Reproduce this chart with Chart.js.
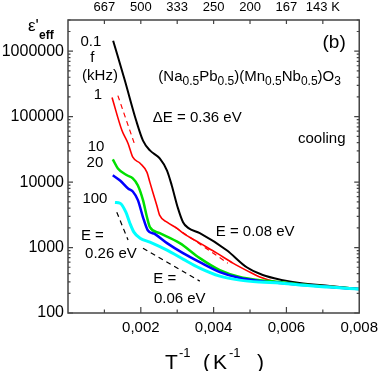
<!DOCTYPE html>
<html lang="en">
<head>
    <meta charset="UTF-8">
    <title>(Na0.5Pb0.5)(Mn0.5Nb0.5)O3 permittivity vs 1/T</title>
    <script src="https://cdn.jsdelivr.net/npm/chart.js"></script>
    <style>
        body { margin: 0; background: #fff; }
        #wrap { width: 384px; height: 371px; }
    </style>
</head>
<body>
    <div id="wrap"><canvas id="chart" width="384" height="371"></canvas></div>

    <script>
        // 1/T (K^-1) and effective permittivity for each frequency (kHz)
        const invT_01k = [0.00124, 0.00156, 0.00187, 0.00206, 0.00225, 0.00252, 0.00272, 0.00285, 0.00302, 0.00316, 0.00330, 0.00362, 0.00436, 0.00491, 0.00535, 0.0059, 0.00636, 0.00719, 0.008];
        const eps_01k = [1.45e6, 3.6e5, 8.8e4, 4.3e4, 3.05e4, 2.3e4, 1.5e4, 8.9e3, 4.0e3, 2.44e3, 2.0e3, 1.66e3, 910, 500, 380, 318, 287, 258, 232];

        const invT_1k = [0.00121, 0.00148, 0.00165, 0.00178, 0.00198, 0.00217, 0.00225, 0.00233, 0.00244, 0.00252, 0.00272, 0.00299, 0.00316, 0.00362, 0.00409, 0.00453, 0.00499, 0.00527, 0.00573, 0.00617, 0.00719, 0.008];
        const eps_1k = [1.96e5, 6.2e4, 3.9e4, 2.4e4, 1.94e4, 1.41e4, 9.9e3, 7.0e3, 4.4e3, 3.1e3, 2.44e3, 1.98e3, 1.66e3, 1.17e3, 822, 578, 422, 354, 297, 280, 255, 232];

        const invT_10k = [0.00123, 0.00137, 0.00162, 0.00178, 0.00192, 0.00206, 0.00217, 0.00225, 0.00252, 0.00307, 0.00362, 0.00417, 0.00472, 0.00527, 0.00582, 0.00636, 0.00719, 0.008];
        const eps_10k = [2.23e4, 1.62e4, 1.27e4, 1.14e4, 8.9e3, 5.3e3, 2.9e3, 2.05e3, 1.66e3, 1.17e3, 690, 452, 354, 318, 297, 275, 252, 232];

        const invT_20k = [0.00123, 0.00143, 0.00165, 0.00178, 0.00192, 0.00206, 0.00219, 0.00239, 0.00272, 0.00316, 0.00362, 0.00417, 0.00472, 0.00527, 0.00582, 0.00636, 0.00719, 0.008];
        const eps_20k = [1.27e4, 1.06e4, 8.0e3, 7.2e3, 5.3e3, 2.9e3, 1.84e3, 1.6e3, 1.17e3, 822, 598, 422, 342, 307, 287, 270, 250, 232];

        const invT_100k = [0.00129, 0.00143, 0.00159, 0.0017, 0.00181, 0.00198, 0.00225, 0.00272, 0.00316, 0.00362, 0.00417, 0.00472, 0.00527, 0.00582, 0.00636, 0.00719, 0.008];
        const eps_100k = [4.9e3, 4.75e3, 3.47e3, 2.35e3, 1.72e3, 1.39e3, 1.21e3, 912, 666, 485, 366, 318, 297, 287, 267, 249, 232];

        // activation-energy guide lines (two end points each)
        const fitX_036 = [0.00137, 0.00184];
        const fitY_036 = [2.1e5, 3.64e4];
        const fitX_008 = [0.00294, 0.00439];
        const fitY_008 = [2.05e3, 578];
        const fitX_026 = [0.00134, 0.00165];
        const fitY_026 = [3.47e3, 1.3e3];
        const fitX_006 = [0.00206, 0.00362];
        const fitY_006 = [979, 307];

        // tick labels
        const bottomTicks = [0.002, 0.004, 0.006, 0.008];
        const topTickValues = [0.001, 0.002, 0.003, 0.004, 0.005, 0.006, 0.007];
        const topTickLabels = ['667', '500', '333', '250', '200', '167', '143 K'];
        const yDecades = [100, 1000, 10000, 100000, 1000000];

        const FONT = "'Liberation Sans', Arial, sans-serif";

        function pts(xs, ys) {
            return xs.map((x, i) => ({ x: x, y: ys[i] }));
        }

        function curve(xs, ys, color, width, order) {
            return {
                data: pts(xs, ys),
                borderColor: color,
                borderWidth: width,
                pointRadius: 0,
                cubicInterpolationMode: 'monotone',
                showLine: true,
                order: order
            };
        }

        function guide(xs, ys, color, order) {
            return {
                data: pts(xs, ys),
                borderColor: color,
                borderWidth: 1.2,
                borderDash: [5, 4],
                pointRadius: 0,
                showLine: true,
                order: order
            };
        }

        // draw text made of pieces (for sub/superscripts), centred on cx
        function richText(ctx, parts, cx, cy) {
            let total = 0;
            parts.forEach(p => {
                ctx.font = p.size + 'px ' + FONT;
                p.w = ctx.measureText(p.t).width;
                total += p.w;
            });
            let x = cx - total / 2;
            parts.forEach(p => {
                ctx.font = p.size + 'px ' + FONT;
                ctx.fillText(p.t, x, cy + (p.dy || 0));
                x += p.w;
            });
        }

        // annotations in data coordinates
        const notes = [
            { t: '0.1', x: 0.00063, y: 1.4e6, size: 15 },
            { t: 'f', x: 0.00067, y: 8.0e5, size: 15 },
            { t: '(kHz)', x: 0.00088, y: 4.25e5, size: 15 },
            { t: '1', x: 0.00082, y: 2.18e5, size: 15 },
            { t: '10', x: 0.00077, y: 3.5e4, size: 15 },
            { t: '20', x: 0.00074, y: 1.94e4, size: 15 },
            { t: '100', x: 0.00074, y: 5.5e3, size: 15 },
            { t: 'E =', x: 0.00067, y: 1.49e3, size: 15 },
            { t: '0.26 eV', x: 0.00118, y: 793, size: 15 },
            { t: 'E =', x: 0.00266, y: 330, size: 15 },
            { t: '0.06 eV', x: 0.00307, y: 163, size: 15 },
            { t: '\u0394E = 0.36 eV', x: 0.00355, y: 9.7e4, size: 15 },
            { t: 'E = 0.08 eV', x: 0.00514, y: 1.72e3, size: 15 },
            { t: 'cooling', x: 0.00697, y: 4.66e4, size: 15 },
            { t: '(b)', x: 0.00731, y: 1.35e6, size: 19 }
        ];

        const decorations = {
            id: 'decorations',
            afterDraw(chart) {
                const { ctx, chartArea: a, scales } = chart;
                const x = scales.x, y = scales.y;
                ctx.save();

                // frame
                ctx.strokeStyle = '#444';
                ctx.lineWidth = 1.5;
                ctx.strokeRect(a.left, a.top, a.right - a.left, a.bottom - a.top);

                // inward ticks, x
                ctx.lineWidth = 1.2;
                ctx.beginPath();
                for (let i = 1; i <= 7; i++) {
                    const px = x.getPixelForValue(i * 0.001);
                    const len = i % 2 === 0 ? 6 : 3.5;
                    ctx.moveTo(px, a.bottom);
                    ctx.lineTo(px, a.bottom - len);
                    ctx.moveTo(px, a.top);
                    ctx.lineTo(px, a.top + 4);
                }
                // inward ticks, y (log minor)
                yDecades.forEach(d => {
                    for (let m = 1; m <= 9; m++) {
                        const v = d * m;
                        if (v > y.max) break;
                        const py = y.getPixelForValue(v);
                        const len = m === 1 ? 5 : 2.5;
                        ctx.moveTo(a.left, py);
                        ctx.lineTo(a.left + len, py);
                        ctx.moveTo(a.right, py);
                        ctx.lineTo(a.right - len, py);
                    }
                });
                ctx.stroke();

                // annotations
                ctx.fillStyle = '#000';
                ctx.textAlign = 'center';
                ctx.textBaseline = 'middle';
                notes.forEach(n => {
                    ctx.font = n.size + 'px ' + FONT;
                    ctx.fillText(n.t, x.getPixelForValue(n.x), y.getPixelForValue(n.y));
                });

                // compound formula
                ctx.textAlign = 'left';
                richText(ctx, [
                    { t: '(Na', size: 15 }, { t: '0.5', size: 12, dy: 5 },
                    { t: 'Pb', size: 15 }, { t: '0.5', size: 12, dy: 5 },
                    { t: ')(Mn', size: 15 }, { t: '0.5', size: 12, dy: 5 },
                    { t: 'Nb', size: 15 }, { t: '0.5', size: 12, dy: 5 },
                    { t: ')O', size: 15 }, { t: '3', size: 12, dy: 5 }
                ], x.getPixelForValue(0.00499), y.getPixelForValue(4.1e5));

                // y title
                ctx.textBaseline = 'alphabetic';
                ctx.font = '17px ' + FONT;
                ctx.fillText("\u03b5'", 28, 31);
                ctx.font = 'bold 12px ' + FONT;
                ctx.fillText('eff', 39, 39);

                // x title
                ctx.font = '21px ' + FONT;
                ctx.fillText('T', 165, 369);
                ctx.fillText('(', 203, 369);
                ctx.fillText('K', 213, 369);
                ctx.fillText(')', 257, 369);
                ctx.font = '13px ' + FONT;
                ctx.fillText('-1', 179, 357);
                ctx.fillText('-1', 229, 357);

                ctx.restore();
            }
        };

        const datasets = [
            curve(invT_100k, eps_100k, '#00ffff', 3, 0),
            curve(invT_20k, eps_20k, '#0000ff', 2.5, 1),
            curve(invT_10k, eps_10k, '#00e000', 2.5, 2),
            curve(invT_1k, eps_1k, '#ff0000', 1.6, 3),
            curve(invT_01k, eps_01k, '#000000', 2, 4),
            guide(fitX_036, fitY_036, '#ff0000', 5),
            guide(fitX_008, fitY_008, '#ff0000', 5),
            guide(fitX_026, fitY_026, '#000000', 5),
            guide(fitX_006, fitY_006, '#000000', 5)
        ];

        const noGrid = { display: false, drawTicks: false, tickLength: 0 };

        new Chart(document.getElementById('chart'), {
            type: 'scatter',
            data: { datasets: datasets },
            plugins: [decorations],
            options: {
                responsive: false,
                animation: false,
                layout: { padding: { right: 24, top: 0, left: 0, bottom: 0 } },
                plugins: { legend: { display: false }, tooltip: { enabled: false } },
                scales: {
                    x: {
                        type: 'linear',
                        position: 'bottom',
                        min: 0,
                        max: 0.008,
                        afterBuildTicks: s => { s.ticks = bottomTicks.map(v => ({ value: v })); },
                        afterFit: s => { s.height = 58; },
                        grid: noGrid,
                        border: { display: false },
                        ticks: {
                            color: '#000',
                            padding: 6,
                            maxRotation: 0,
                            font: { family: FONT, size: 15 },
                            callback: v => v.toFixed(3).replace('.', ',')
                        }
                    },
                    x2: {
                        type: 'linear',
                        position: 'top',
                        min: 0,
                        max: 0.008,
                        afterBuildTicks: s => { s.ticks = topTickValues.map(v => ({ value: v })); },
                        afterFit: s => { s.height = 20; },
                        grid: noGrid,
                        border: { display: false },
                        ticks: {
                            color: '#000',
                            padding: 5,
                            maxRotation: 0,
                            font: { family: FONT, size: 13 },
                            callback: (v, i) => topTickLabels[i]
                        }
                    },
                    y: {
                        type: 'logarithmic',
                        min: 100,
                        max: 3e6,
                        afterBuildTicks: s => { s.ticks = yDecades.map(v => ({ value: v })); },
                        afterFit: s => { s.width = 68; },
                        grid: noGrid,
                        border: { display: false },
                        ticks: {
                            color: '#000',
                            padding: 4,
                            font: { family: FONT, size: 16 },
                            callback: v => String(v)
                        }
                    }
                }
            }
        });
    </script>
</body>
</html>
